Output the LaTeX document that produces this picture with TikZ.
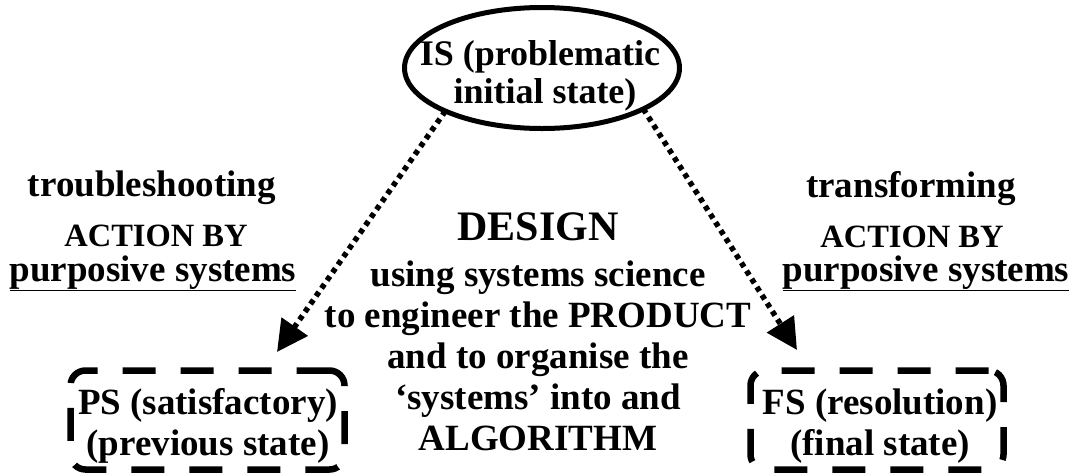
\documentclass[tikz,border=0pt]{standalone}
\usepackage{fontspec}
\setmainfont{Liberation Serif}
\usetikzlibrary{shapes.geometric,arrows.meta}
\begin{document}
\begin{tikzpicture}[x=1pt,y=-1pt,
  txt/.style={font=\bfseries\fontsize{37}{41}\selectfont, inner sep=0pt, anchor=base},
  small/.style={font=\bfseries\fontsize{32.5}{38}\selectfont, inner sep=0pt, anchor=base},
  big/.style={font=\bfseries\fontsize{42}{44}\selectfont, inner sep=0pt, anchor=base},
  state/.style={ellipse, draw, line width=5pt, minimum width=275pt, minimum height=121pt,
    inner sep=0pt, outer sep=0pt},
  endstate/.style={draw, line width=6.5pt, rounded corners=15pt,
    dash pattern=on 33pt off 25pt, inner sep=0pt, outer sep=0pt},
  boxtext/.style={font=\bfseries\fontsize{37}{41.5}\selectfont, inner sep=0pt, align=center},
  flow/.style={line width=5.5pt, dash pattern=on 5pt off 4.6pt,
    -{Triangle[length=31pt,width=31pt]}}
]
\useasboundingbox (0,0) rectangle (1079,475);

% initial state
\node[state] (IS) at (542,68) {};
\node[font=\bfseries\fontsize{36}{38}\selectfont, inner sep=0pt, align=center]
  (IStext) at (540,76) {IS (problematic\\\hspace*{10pt}initial state)};

% previous and final states
\node[endstate, minimum width=274pt, minimum height=99pt] (PS) at (207.5,420) {};
\node[boxtext] (PStext) at (208,426) {PS (satisfactory)\\(previous state)};
\node[endstate, minimum width=253pt, minimum height=99pt] (FS) at (877,420) {};
\node[boxtext] (FStext) at (880,426) {FS (resolution)\\(final state)};

% arrow tips just above the boxes
\coordinate (PStip) at ([xshift=69.5pt,yshift=18.5pt]PS.north);
\coordinate (FStip) at ([xshift=-80pt,yshift=20.5pt]FS.north);

\draw[flow] (IS.204) -- (PStip);
\draw[flow] (IS.338) -- (FStip);

% left side labels
\node[txt] (tl1) at (152,196) {troubleshooting};
\node[small] (tl2) at (156,246) {ACTION BY};
\node[txt] (tl3) at (153,281) {\underline{purposive systems}};

% right side labels
\node[txt] (tr1) at (911,197) {transforming};
\node[small] (tr2) at (912,247) {ACTION BY};
\node[txt] (tr3) at (926,281) {\underline{purposive systems}};

% centre
\node[big] (d0) at (538,240) {DESIGN};
\node[txt] (d1) at (538,286) {using systems science};
\node[txt] (d2) at (538,327) {to engineer the PRODUCT};
\node[txt] (d3) at (538,368) {and to organise the};
\node[txt] (d4) at (538,409) {‘systems’ into and};
\node[txt] (d5) at (538,450) {ALGORITHM};
\end{tikzpicture}
\end{document}
